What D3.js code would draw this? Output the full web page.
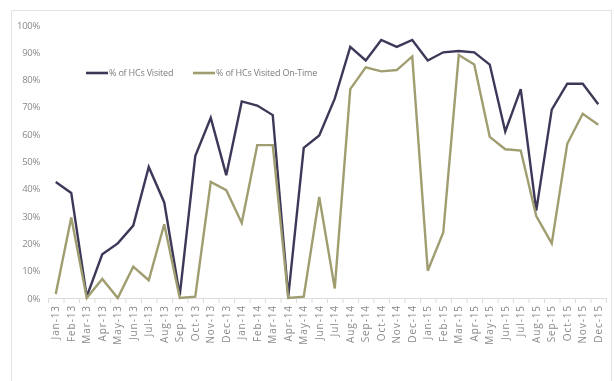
<!DOCTYPE html>
<html>
<head>
<meta charset="utf-8">
<script src="https://cdn.jsdelivr.net/npm/d3@7"></script>
<style>
  html, body { margin: 0; padding: 0; background: #fff; }
  svg { display: block; }
  text { font-family: "Open Sans", "Noto Sans", sans-serif; }
</style>
</head>
<body>
<svg id="chart" width="614" height="381"></svg>
<script>
// Monthly health-centre visit rates, Jan 2013 – Dec 2015
const months = ["Jan-13","Feb-13","Mar-13","Apr-13","May-13","Jun-13","Jul-13","Aug-13","Sep-13","Oct-13","Nov-13","Dec-13",
                "Jan-14","Feb-14","Mar-14","Apr-14","May-14","Jun-14","Jul-14","Aug-14","Sep-14","Oct-14","Nov-14","Dec-14",
                "Jan-15","Feb-15","Mar-15","Apr-15","May-15","Jun-15","Jul-15","Aug-15","Sep-15","Oct-15","Nov-15","Dec-15"];
const visited = [42.5, 38.5, 0.5, 16, 20, 26.5, 48, 35, 1, 52, 66, 45,
                 72, 70.5, 67, 0.5, 55, 59.5, 73, 92, 87, 94.5, 92, 94.5,
                 87, 90, 90.5, 90, 85.5, 61, 76.5, 32, 69, 78.5, 78.5, 71];
const visitedOnTime = [1.5, 29.5, 0, 7, 0, 11.5, 6.5, 27, 0, 0.5, 42.5, 39.5,
                       27.5, 56, 56, 0, 0.5, 37, 3.5, 76.5, 84.5, 83, 83.5, 88.5,
                       10, 24, 89, 85.5, 59, 54.5, 54, 30, 20, 56.5, 67.5, 63.5];
const yTicks = [0, 10, 20, 30, 40, 50, 60, 70, 80, 90, 100];
const seriesNames = ["% of HCs Visited", "% of HCs Visited On-Time"];
const seriesColors = ["#3e3859", "#a09e70"];

const svg = d3.select("#chart");

// soft edge filter for the whole drawing
const defs = svg.append("defs");
defs.append("filter").attr("id", "soft")
  .append("feGaussianBlur").attr("stdDeviation", 0.45);

const root = svg.append("g").attr("filter", "url(#soft)");

// outer frame (top, left, right edges)
root.append("path")
  .attr("d", "M11.5,381 V10.5 H611.5 V381")
  .attr("fill", "none").attr("stroke", "#e2e2e2").attr("stroke-width", 1);

const plot = { left: 48, right: 606, top: 25, bottom: 298 };

const x = d3.scaleBand().domain(months).range([plot.left, plot.right]);
const y = d3.scaleLinear().domain([0, 100]).range([plot.bottom, plot.top]);

// y axis labels
const yAxis = root.append("g").attr("transform", `translate(${plot.left},0)`)
  .call(d3.axisLeft(y).tickValues(yTicks).tickFormat(d => d + "%").tickSize(0).tickPadding(8));
yAxis.select(".domain").remove();
yAxis.selectAll("text").attr("fill", "#8a8a8a").style("font-size", "9.5px")
  .style("letter-spacing", "-0.3px");

// x axis with boundary tick marks and vertical month labels
const xAxis = root.append("g").attr("transform", `translate(0,${plot.bottom})`)
  .call(d3.axisBottom(x).tickSize(0));
xAxis.select(".domain").attr("stroke", "#dcdcdc");
xAxis.selectAll("text")
  .attr("fill", "#8a8a8a").style("font-size", "10px")
  .style("letter-spacing", "0.9px")
  .attr("text-anchor", "end")
  .attr("transform", "rotate(-90)")
  .attr("x", -7).attr("y", 0).attr("dy", "0.35em");
const edges = months.map(m => x(m)).concat([plot.right]);
root.append("g").selectAll("line").data(edges).join("line")
  .attr("x1", d => d + 0.5).attr("x2", d => d + 0.5)
  .attr("y1", plot.bottom).attr("y2", plot.bottom + 5)
  .attr("stroke", "#dcdcdc");

// series lines
const line = d3.line()
  .x((d, i) => x(months[i]) + x.bandwidth() / 2)
  .y(d => y(d));

[visited, visitedOnTime].forEach((vals, k) => {
  root.append("path")
    .datum(vals)
    .attr("d", line)
    .attr("fill", "none")
    .attr("stroke", seriesColors[k])
    .attr("stroke-width", 2.4)
    .attr("stroke-linejoin", "miter");
});

// legend
const legendPos = [86, 193];
const legend = root.append("g");
seriesNames.forEach((name, k) => {
  const g = legend.append("g").attr("transform", `translate(${legendPos[k]},73)`);
  g.append("line").attr("x1", 0).attr("x2", 22).attr("y1", 0).attr("y2", 0)
    .attr("stroke", seriesColors[k]).attr("stroke-width", 2.6);
  g.append("text").attr("x", 23).attr("y", 0).attr("dy", "0.35em")
    .attr("fill", "#7d7d7d").style("font-size", "9px")
    .style("letter-spacing", "-0.2px")
    .text(name);
});
</script>
</body>
</html>
